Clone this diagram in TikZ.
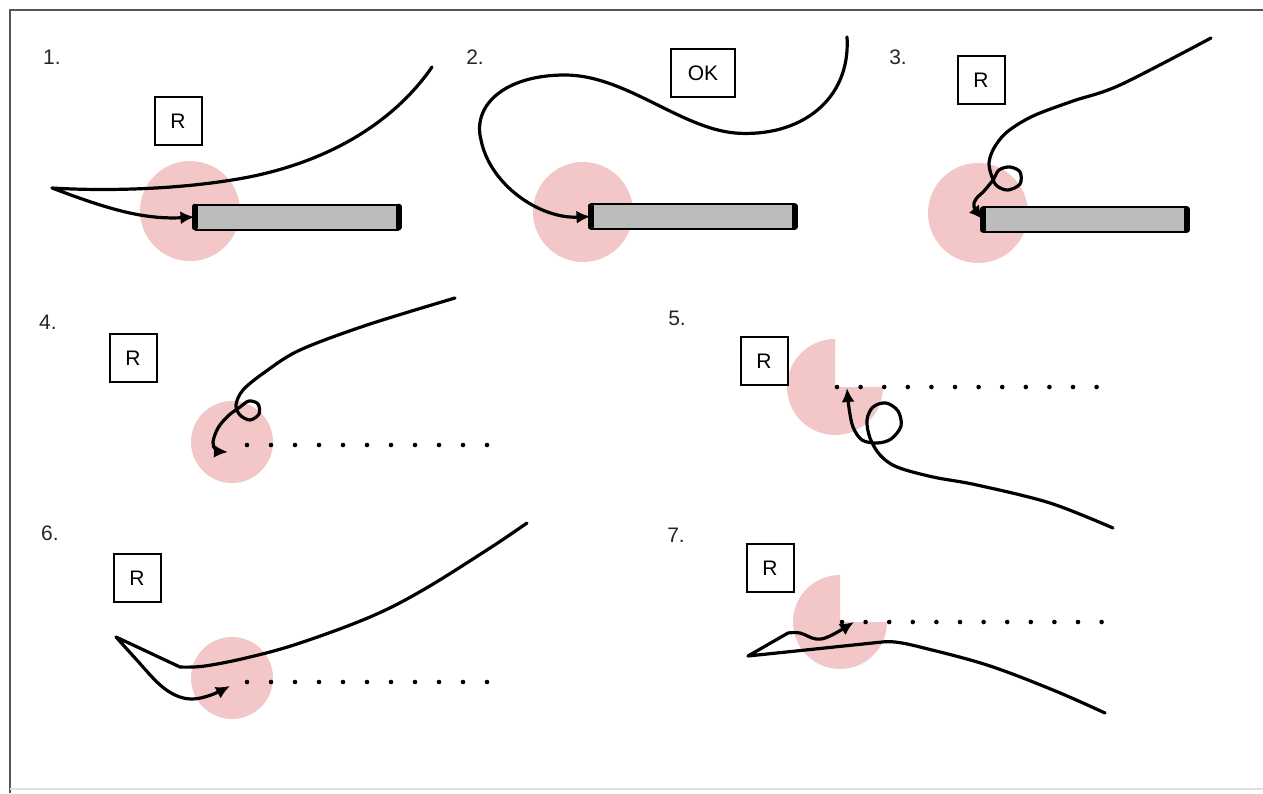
\documentclass[tikz,border=0pt]{standalone}
\usepackage{fontspec}
\setmainfont{Liberation Sans}
\usetikzlibrary{arrows.meta}

\definecolor{zonepink}{RGB}{243,199,199}
\definecolor{rodgray}{RGB}{188,188,188}
\definecolor{framegray}{RGB}{85,85,85}

\tikzset{
	zone/.style={circle, fill=zonepink, inner sep=0pt, minimum size=#1},
	rod/.style={draw, fill=rodgray, line width=1pt, inner sep=0pt,
		minimum width=101pt, minimum height=12.5pt},
	rodcap/.style={line width=3pt, line cap=round},
	trail/.style={line width=2.3pt, line cap=round, dash pattern=on 0pt off #1},
	gesture/.style={line width=1.6pt, line join=round, line cap=round},
	arrowed/.style={-{Latex[length=7pt,width=6.5pt]}},
	sign/.style={draw, line width=1pt, inner sep=0pt, minimum width=23.5pt,
		minimum height=24pt, font=\fontsize{10.5}{12}\selectfont},
	num/.style={font=\fontsize{10.5}{12}\selectfont, text=black!85}
}

\begin{document}
\begin{tikzpicture}[x=0.5pt, y=-0.5pt]
	% параметры
	\def\W{1263} % ширина
	\def\H{793}  % высота
	\useasboundingbox (0,0) rectangle (\W,\H);

	% рамка
	\draw[line width=1.3pt, framegray] (10,\H) -- (10,10) -- (\W,10);
	\draw[line width=0.6pt, gray!25] (10,789) -- (\W,789);

	% зоны касания
	\node[zone=50pt] (z1) at (190,211) {};
	\node[zone=50pt] (z2) at (583,212) {};
	\node[zone=50pt] (z3) at (978,213) {};
	\node[zone=41pt] (z4) at (232,442) {};
	\node[zone=41pt] (z6) at (232,678) {};
	% неполные зоны
	\fill[zonepink] (835,387) -- ++(48,0) arc[start angle=0, end angle=270, radius=48] -- cycle;
	\fill[zonepink] (840,622) -- ++(47,0) arc[start angle=0, end angle=270, radius=47] -- cycle;

	% стержни
	\node[rod] (rod1) at (296.5,217) {};
	\node[rod] (rod2) at (692.5,216.5) {};
	\node[rod] (rod3) at (1085,219.5) {};
	\foreach \r in {rod1,rod2,rod3} {
		\draw[rodcap] ([yshift=-1.6pt]\r.north west) -- ([yshift=1.6pt]\r.south west);
		\draw[rodcap] ([yshift=-1.6pt]\r.north east) -- ([yshift=1.6pt]\r.south east);
	}

	% пунктир
	\coordinate (d4a) at (247,445);  \coordinate (d4b) at (489,445);
	\coordinate (d5a) at (837,387);  \coordinate (d5b) at (1099,387);
	\coordinate (d6a) at (247,682);  \coordinate (d6b) at (489,682);
	\coordinate (d7a) at (842,622);  \coordinate (d7b) at (1104,622);
	\draw[trail=12pt] (d4a) -- (d4b);
	\draw[trail=11.8pt] (d5a) -- (d5b);
	\draw[trail=12pt] (d6a) -- (d6b);
	\draw[trail=11.8pt] (d7a) -- (d7b);

	% начала и концы жестов
	\coordinate (s1) at (432,67);
	\coordinate (s2) at (847,37);
	\coordinate (s3) at (1211,38);
	\coordinate (s4) at (455,298);   \coordinate (t4) at (228,452);
	\coordinate (s5) at (1113,528);  \coordinate (t5) at (847,388);
	\coordinate (s6) at (527,523);   \coordinate (t6) at (230,686);
	\coordinate (s7) at (1105,713);  \coordinate (t7) at (854,622);

	% жест 1
	\draw[gesture, arrowed] (s1) .. controls (392,125) and (322,166) .. (232,180)
		.. controls (170,190) and (100,191) .. (52,188)
		.. controls (100,206) and (140,220) .. (rod1.west);
	% жест 2
	\draw[gesture, arrowed] (s2) .. controls (851,100) and (800,138) .. (735,133)
		.. controls (680,128) and (625,75) .. (565,75)
		.. controls (505,75) and (472,105) .. (481,140)
		.. controls (490,185) and (540,219) .. (rod2.west);
	% жест 3
	\draw[gesture, arrowed] plot[smooth, tension=0.55] coordinates {(s3) (1120,85) (1073,101) (1033,116) (1007,132) (994,148) (989,163) (992,177) (997,186) (1008,190) (1020,184) (1020,172) (1010,167) (999,170) (993,180) (984,191) (976,199) (974,207) (rod3.west)};
	% жест 4
	\draw[gesture, arrowed] plot[smooth, tension=0.55] coordinates {(s4) (367,325) (300,350) (265,372) (243,390) (236,405) (240,415) (250,420) (259,414) (258,404) (249,401) (240,407) (228,416) (218,428) (213,442) (216,450) (t4)};
	% жест 5
	\draw[gesture, arrowed] plot[smooth, tension=0.55] coordinates {(s5) (1050,503) (977,485) (933,477) (897,467) (880,455) (870,438) (867,420) (873,407) (886,403) (898,411) (901,426) (891,439) (877,443) (862,440) (853,427) (849,408) (t5)};
	% жест 6
	\draw[gesture, arrowed] plot[smooth, tension=0.6] coordinates {(s6) (490,548) (423,590) (370,617) (300,643) (250,657) (205,666) (180,667)}
		-- (116,637)
		-- plot[smooth, tension=0.6] coordinates {(116,637) (135,658) (158,683) (175,695) (192,699) (211,695) (t6)};
	% жест 7
	\draw[gesture, arrowed] plot[smooth, tension=0.6] coordinates {(s7) (1053,690) (987,665) (920,647) (895,642) (882,642)}
		-- (748,656) -- (788,633)
		-- plot[smooth, tension=0.6] coordinates {(788,633) (800,633) (816,639) (830,636) (t7)};

	% таблички
	\node[sign] (r1) at (178,121) {R};
	\node[sign, minimum width=32pt] (ok2) at (703,73) {OK};
	\node[sign] (r3) at (981,80) {R};
	\node[sign] (r4) at (133,358) {R};
	\node[sign] (r5) at (764,361) {R};
	\node[sign] (r6) at (137,578) {R};
	\node[sign] (r7) at (770,568) {R};

	% номера
	\node[num] (n1) at (52,57) {1.};
	\node[num] (n2) at (475,57) {2.};
	\node[num] (n3) at (898,57) {3.};
	\node[num] (n4) at (48,322) {4.};
	\node[num] (n5) at (677,318) {5.};
	\node[num] (n6) at (50,533) {6.};
	\node[num] (n7) at (676,535) {7.};
\end{tikzpicture}
\end{document}
